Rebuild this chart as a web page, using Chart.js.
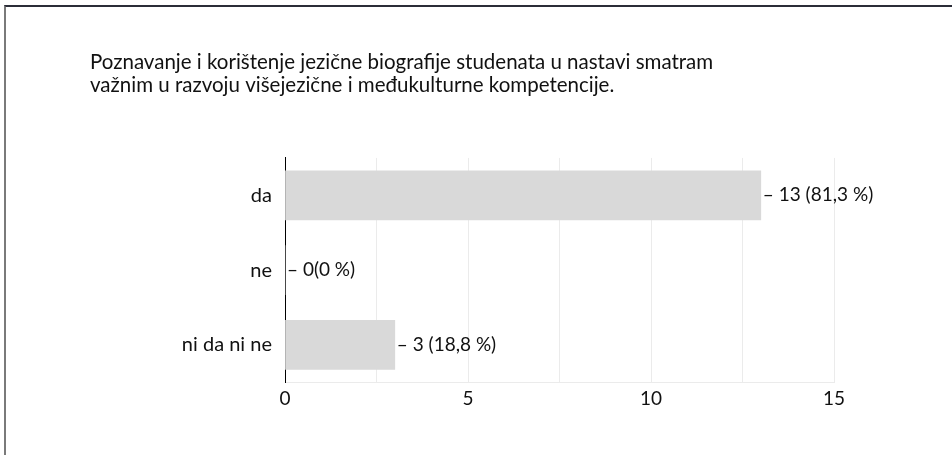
<!DOCTYPE html>
<html>
<head>
<meta charset="utf-8">
<script src="https://cdn.jsdelivr.net/npm/chart.js@4"></script>
<style>
    html, body { margin: 0; padding: 0; background: #fff; }
    #frame {
        position: absolute; left: 4px; top: 5px; width: 948px; height: 450px;
        border-top: 2px solid #2b2d38; border-left: 2px solid #7a7a7a;
        box-sizing: border-box;
    }
    #wrap { position: absolute; left: 0; top: 0; width: 952px; height: 455px; }
</style>
</head>
<body>
<div id="frame"></div>
<div id="wrap"><canvas id="chart"></canvas></div>
<script>
const titleLines = [
    "Poznavanje i korištenje jezične biografije studenata u nastavi smatram",
    "važnim u razvoju višejezične i međukulturne kompetencije."
];
const categories = ["da", "ne", "ni da ni ne"];
const counts = [13, 0, 3];
const percents = ["81,3", "0", "18,8"];
const xTicks = [0, 5, 10, 15];

const fontFamily = "Lato, 'Open Sans', sans-serif";

// value labels to the right of each bar
const valueLabels = {
    id: "valueLabels",
    afterDatasetsDraw(chart) {
        const ctx = chart.ctx;
        const meta = chart.getDatasetMeta(0);
        ctx.save();
        ctx.font = "19px " + fontFamily;
        ctx.fillStyle = "#111";
        ctx.textBaseline = "middle";
        ctx.textAlign = "left";
        meta.data.forEach((bar, i) => {
            const sep = counts[i] === 0 ? "" : " ";
            const txt = "– " + counts[i] + sep + "(" + percents[i] + " %)";
            ctx.fillText(txt, bar.x + 2, bar.y);
        });
        ctx.restore();
    }
};

new Chart(document.getElementById("chart"), {
    type: "bar",
    data: {
        labels: categories,
        datasets: [{
            data: counts,
            backgroundColor: "#d9d9d9",
            barThickness: 49
        }]
    },
    options: {
        indexAxis: "y",
        responsive: true,
        maintainAspectRatio: false,
        animation: false,
        layout: { padding: { left: 90, right: 118, top: 51, bottom: 40 } },
        plugins: {
            legend: { display: false },
            tooltip: { enabled: false },
            title: {
                display: true,
                text: titleLines,
                align: "start",
                color: "#111",
                font: { family: fontFamily, size: 20.5, weight: "normal", lineHeight: 1.12 },
                padding: { top: 0, bottom: 61 }
            }
        },
        scales: {
            x: {
                min: 0,
                max: 15,
                ticks: {
                    stepSize: 2.5,
                    color: "#111",
                    font: { family: fontFamily, size: 19 },
                    padding: 5,
                    callback: v => xTicks.includes(v) ? v : ""
                },
                grid: { color: "#ebebeb", drawTicks: false },
                border: { color: "#ebebeb" }
            },
            y: {
                ticks: {
                    color: "#111",
                    font: { family: fontFamily, size: 20 },
                    padding: 13
                },
                grid: { display: false, drawTicks: false },
                border: { color: "#000" },
                afterFit(scale) { scale.width = 195; }
            }
        }
    },
    plugins: [valueLabels]
});
</script>
</body>
</html>
